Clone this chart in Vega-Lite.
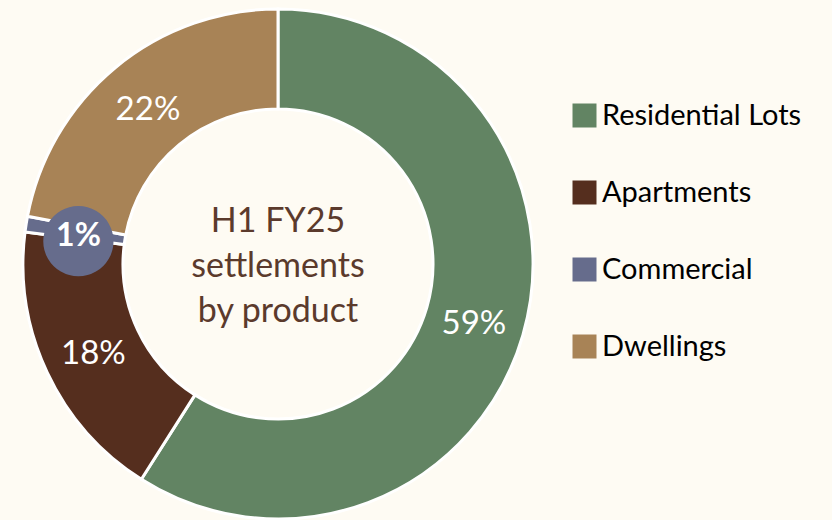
{
  "$schema": "https://vega.github.io/schema/vega-lite/v6.json",
  "width": 556,
  "height": 520,
  "padding": {"left": 0, "top": 3, "right": 30, "bottom": 0},
  "background": "#FEFBF3",
  "config": {"view": {"stroke": null}, "font": "Lato"},
  "data": {
    "values": [
      {"product": "Residential Lots", "share": 0.59, "order": 1},
      {"product": "Apartments", "share": 0.18, "order": 2},
      {"product": "Commercial", "share": 0.01, "order": 3},
      {"product": "Dwellings", "share": 0.22, "order": 4}
    ]
  },
  "encoding": {
    "theta": {"field": "share", "type": "quantitative", "stack": true},
    "order": {"field": "order", "type": "quantitative"}
  },
  "layer": [
    {
      "mark": {"type": "arc", "outerRadius": 255, "innerRadius": 155, "stroke": "#FFFFFF", "strokeWidth": 3},
      "encoding": {
        "color": {
          "field": "product",
          "type": "nominal",
          "scale": {
            "domain": ["Residential Lots", "Apartments", "Commercial", "Dwellings"],
            "range": ["#628463", "#552E1E", "#666C8C", "#A88356"]
          },
          "legend": {
            "title": null,
            "orient": "none",
            "legendX": 570,
            "legendY": 97,
            "symbolType": "square",
            "symbolSize": 576,
            "symbolStrokeWidth": 0,
            "labelFontSize": 29,
            "labelColor": "#000000",
            "labelOffset": 3,
            "rowPadding": 47,
            "labelLimit": 400
          }
        }
      }
    },
    {
      "mark": {"type": "text", "radius": 202, "font": "DejaVu Sans", "fontSize": 92, "color": "#666C8C", "baseline": "middle", "align": "center", "dy": 5},
      "encoding": {
        "text": {"condition": {"test": "datum.product !== 'Commercial'", "value": ""}, "value": "●"}
      }
    },
    {
      "mark": {"type": "text", "radius": 204, "fontSize": 33, "color": "#FFFFFF", "baseline": "middle", "align": "center", "dy": 3},
      "encoding": {
        "text": {"condition": {"test": "datum.product === 'Commercial'", "value": ""}, "field": "share", "type": "quantitative", "format": ".0%"}
      }
    },
    {
      "mark": {"type": "text", "radius": 202, "fontSize": 32, "fontWeight": "bold", "color": "#FFFFFF", "baseline": "middle", "align": "center", "dy": 4},
      "encoding": {
        "text": {"condition": {"test": "datum.product !== 'Commercial'", "value": ""}, "field": "share", "type": "quantitative", "format": ".0%"}
      }
    },
    {
      "data": {"values": [{"caption": ["H1 FY25", "settlements", "by product"]}]},
      "mark": {"type": "text", "fontSize": 34, "color": "#5B3A2C", "lineHeight": 45, "baseline": "middle", "align": "center", "dy": -42},
      "encoding": {
        "text": {"field": "caption", "type": "nominal"},
        "theta": null,
        "order": null
      }
    }
  ]
}
